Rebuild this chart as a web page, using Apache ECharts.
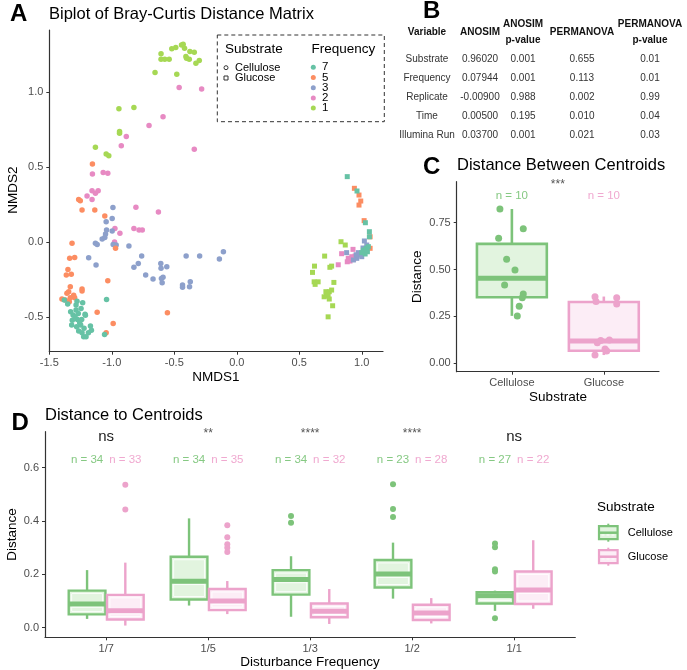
<!DOCTYPE html>
<html><head><meta charset="utf-8">
<script src="https://cdn.jsdelivr.net/npm/echarts@6/dist/echarts.min.js"></script>
<style>html,body{margin:0;padding:0;background:#fff}#c{width:687px;height:670px}</style>
</head><body><div id="c"></div>
<script>
// ---------------- Panel A data (NMDS1, NMDS2) ----------------
const celF1 = [[-0.606,1.258],[-0.606,1.222],[-0.576,1.222],[-0.541,1.222],[-0.520,1.291],[-0.488,1.300],[-0.442,1.316],[-0.429,1.322],[-0.418,1.295],[-0.407,1.240],[-0.402,1.229],[-0.380,1.222],[-0.375,1.273],[-0.340,1.269],[-0.327,1.195],[-0.300,1.213],[-0.654,1.133],[-0.480,1.122],[-0.943,0.890],[-0.823,0.899],[-0.938,0.738],[-0.938,0.727],[-1.131,0.633],[-1.045,0.589],[-1.024,0.577]];
const celF2 = [[-0.461,1.032],[-0.281,1.023],[-0.590,0.838],[-0.702,0.778],[-0.884,0.705],[-0.924,0.644],[-0.340,0.620],[-1.155,0.455],[-1.069,0.464],[-1.032,0.459],[-1.158,0.343],[-1.109,0.343],[-1.131,0.326],[-1.198,0.308],[-1.158,0.285],[-0.807,0.232],[-0.627,0.201],[-0.823,0.091],[-0.782,0.080],[-0.756,0.080],[-0.975,0.091],[-0.935,0.058],[-0.978,0.000]];
const celF3 = [[-0.991,0.230],[-0.997,0.158],[-1.045,0.136],[-1.042,0.080],[-1.050,0.054],[-0.997,0.074],[-1.077,0.020],[-1.056,0.031],[-1.131,-0.009],[-1.117,-0.016],[-0.989,-0.016],[-0.965,-0.020],[-0.863,-0.027],[-1.185,-0.105],[-1.126,-0.154],[-0.761,-0.094],[-0.788,-0.143],[-0.823,-0.169],[-0.729,-0.221],[-0.670,-0.247],[-0.608,-0.143],[-0.606,-0.176],[-0.560,-0.165],[-0.603,-0.243],[-0.590,-0.236],[-0.597,-0.272],[-0.434,-0.288],[-0.434,-0.303],[-0.372,-0.265],[-0.378,-0.299],[-0.405,-0.094],[-0.297,-0.094],[-0.139,-0.114],[-0.107,-0.065]];
const celF5 = [[-1.155,0.522],[-1.265,0.285],[-1.252,0.276],[-1.238,0.214],[-1.136,0.214],[-1.056,0.174],[-1.318,-0.009],[-1.337,-0.109],[-1.297,-0.103],[-1.351,-0.183],[-1.364,-0.221],[-1.324,-0.216],[-1.238,-0.314],[-1.238,-0.328],[-1.332,-0.299],[-1.345,-0.332],[-1.359,-0.343],[-1.399,-0.381],[-1.372,-0.388],[-1.305,-0.355],[-1.297,-0.372],[-1.340,-0.399],[-1.332,-0.372],[-1.032,-0.259],[-0.970,-0.042],[-1.117,-0.470],[-0.555,-0.473],[-0.989,-0.544],[-1.045,-0.606]];
const celF7 = [[-1.380,-0.388],[-1.353,-0.415],[-1.278,-0.395],[-1.233,-0.406],[-1.286,-0.421],[-1.329,-0.466],[-1.286,-0.455],[-1.246,-0.444],[-1.310,-0.488],[-1.268,-0.477],[-1.214,-0.482],[-1.316,-0.522],[-1.275,-0.517],[-1.241,-0.517],[-1.257,-0.540],[-1.321,-0.555],[-1.281,-0.566],[-1.249,-0.555],[-1.265,-0.595],[-1.222,-0.577],[-1.171,-0.562],[-1.163,-0.589],[-1.187,-0.606],[-1.238,-0.606],[-1.225,-0.633],[-1.206,-0.633],[-1.042,-0.384],[-1.058,-0.618],[-1.211,-0.489],[-1.294,-0.500]];
const gluF1 = [[0.834,0.002],[0.868,-0.020],[0.703,-0.094],[0.622,-0.161],[0.606,-0.203],[0.745,-0.169],[0.759,-0.161],[0.619,-0.266],[0.651,-0.266],[0.627,-0.283],[0.777,-0.270],[0.713,-0.332],[0.740,-0.332],[0.759,-0.321],[0.699,-0.366],[0.731,-0.361],[0.740,-0.381],[0.767,-0.426],[0.731,-0.500],[0.718,-0.343]];
const gluF2 = [[0.930,-0.049],[0.839,-0.078],[0.812,-0.152],[0.892,-0.109],[0.906,-0.127],[0.920,-0.098],[0.946,-0.094],[0.884,-0.132],[0.900,-0.118],[0.935,-0.115]];
const gluF3 = [[1.021,0.007],[1.040,-0.020],[0.879,-0.071],[0.981,-0.087],[0.960,-0.109],[0.933,-0.120],[1.000,-0.098],[0.973,-0.071],[0.955,-0.085],[1.010,-0.040]];
const gluF5 = [[0.941,0.359],[0.978,0.314],[0.992,0.274],[0.978,0.247],[1.019,0.143],[1.067,0.035],[1.067,-0.042]];
const gluF7 = [[0.884,0.437],[0.962,0.341],[1.029,0.129],[1.061,0.069],[1.061,0.035],[1.013,-0.054],[1.035,-0.042],[1.045,-0.065],[1.027,-0.080],[1.053,-0.031],[1.000,-0.071],[1.040,-0.055]];
const freqNames = ['7','5','3','2','1'];

// ---------------- Panel B table ----------------
const tblVars    = ['Substrate','Frequency','Replicate','Time','Illumina Run'];
const tblAnosim  = ['0.96020','0.07944','-0.00900','0.00500','0.03700'];
const tblAnosimP = ['0.001','0.001','0.988','0.195','0.001'];
const tblPerm    = ['0.655','0.113','0.002','0.010','0.021'];
const tblPermP   = ['0.01','0.01','0.99','0.04','0.03'];

// ---------------- Panel C data ----------------
const cCats = ['Cellulose','Glucose'];
const cBoxCel = [0.253,0.352,0.454,0.637,0.823];   // min,q1,median,q3,max
const cBoxGlu = [0.044,0.067,0.119,0.327,0.356];
const cCelJit = [-0.13,0.124,-0.144,-0.057,0.034,-0.079,0.124,0.113,0.080,0.059];
const cCelVal = [0.823,0.718,0.667,0.555,0.498,0.418,0.370,0.350,0.304,0.252];
const cGluJit = [-0.096,-0.085,0.14,0.14,-0.071,0.06,0.031,-0.096,0.013,-0.034];
const cGluVal = [0.355,0.329,0.350,0.316,0.110,0.124,0.066,0.044,0.076,0.121];
const cN = [10,10];
const cSig = '***';

// ---------------- Panel D data ----------------
const dCats = ['1/7','1/5','1/3','1/2','1/1'];
const dBoxCel = [[0.033,0.050,0.089,0.139,0.216],[0.083,0.106,0.174,0.266,0.410],[0.041,0.124,0.181,0.216,0.268],[0.109,0.151,0.201,0.254,0.319],[0.063,0.091,0.120,0.133,0.139]];
const dBoxGlu = [[0.008,0.031,0.064,0.123,0.244],[0.051,0.066,0.100,0.145,0.175],[0.014,0.039,0.062,0.091,0.145],[0.016,0.029,0.055,0.086,0.111],[0.071,0.089,0.141,0.211,0.328]];
const dOutCel = [[3,0.419],[3,0.394],[4,0.538],[4,0.445],[4,0.415],[5,0.316],[5,0.302],[5,0.219],[5,0.211],[5,0.035]];
const dOutGlu = [[1,0.536],[1,0.443],[2,0.384],[2,0.339],[2,0.313],[2,0.300],[2,0.284]];
const dNCel = [34,34,34,23,27];
const dNGlu = [33,35,32,28,22];
const dSig = ['ns','**','****','****','ns'];

// ---------------- styling ----------------
const FONT = 'Liberation Sans, Arial, Helvetica, sans-serif';
const set2 = {'7':'#66C2A5','5':'#FC8D62','3':'#8DA0CB','2':'#E78AC3','1':'#A6D854'};
const GREEN = '#7dc37a', GREEN_F = '#e2f4df', PINK = '#eca3cb', PINK_F = '#fcedf6';
const GREEN_T = '#86c983', PINK_T = '#f0a9d0';
const AX = '#333333', TICKC = '#4d4d4d';
const DODGE = 0.1875;

function vAxis(gridIndex, min, max, ticks, fmt, margin) {
  return {
    type:'value', gridIndex, min, max, scale:false,
    axisLine:{show:true, onZero:false, lineStyle:{color:AX, width:1.2}},
    axisTick:{show:true, length:3, lineStyle:{color:AX, width:1}, customValues:ticks},
    axisLabel:{show:true, customValues:ticks, formatter:fmt, color:TICKC, fontSize:11, fontFamily:FONT, margin:margin},
    splitLine:{show:false}
  };
}

function boxSeries(gridIdx, items, halfW, color, fill, lw, medW, inner) {
  return {
    type:'custom', xAxisIndex:gridIdx, yAxisIndex:gridIdx, clip:false,
    encode:{x:0, y:[1,2,3,4,5]},
    data: items,
    renderItem: function(params, api) {
      const x = api.value(0);
      const top = api.coord([x, api.value(5)]);
      const q3 = api.coord([x, api.value(4)]);
      const md = api.coord([x, api.value(3)]);
      const q1 = api.coord([x, api.value(2)]);
      const bt = api.coord([x, api.value(1)]);
      const hw = api.size([halfW, 0])[0];
      const cx = top[0];
      const ch = [
        {type:'line', shape:{x1:cx,y1:top[1],x2:cx,y2:q3[1]}, style:{stroke:color, lineWidth:lw}},
        {type:'line', shape:{x1:cx,y1:q1[1],x2:cx,y2:bt[1]}, style:{stroke:color, lineWidth:lw}},
        {type:'rect', shape:{x:cx-hw, y:q3[1], width:2*hw, height:q1[1]-q3[1]}, style:{fill:fill, stroke:color, lineWidth:lw}}
      ];
      if (inner) {
        const ins = lw*0.9+0.8;
        const h = q1[1]-q3[1]-2*ins;
        if (h > 1) ch.push({type:'rect', shape:{x:cx-hw+ins, y:q3[1]+ins, width:2*hw-2*ins, height:h}, style:{fill:'none', stroke:'rgba(255,255,255,0.85)', lineWidth:1}});
      }
      ch.push({type:'line', shape:{x1:cx-hw,y1:md[1],x2:cx+hw,y2:md[1]}, style:{stroke:color, lineWidth:medW}});
      if (inner) ch.push({type:'line', shape:{x1:cx-hw+lw+1,y1:md[1]+medW/2+0.8,x2:cx+hw-lw-1,y2:md[1]+medW/2+0.8}, style:{stroke:'rgba(255,255,255,0.85)', lineWidth:1}});
      return {type:'group', children:ch};
    }
  };
}

function textSeries(gridIdx, pts, texts, colors, fontSize) {
  return {
    type:'custom', xAxisIndex:gridIdx, yAxisIndex:gridIdx, clip:false,
    encode:{x:0, y:1}, data: pts,
    renderItem: function(params, api) {
      const p = api.coord([api.value(0), api.value(1)]);
      return {type:'text', x:p[0], y:p[1], style:{text:texts[params.dataIndex], fill:colors[params.dataIndex], fontSize:fontSize, fontFamily:FONT, align:'center', verticalAlign:'middle'}};
    }
  };
}

const series = [];
// Panel A: cellulose circles then glucose squares
const celSets = {'7':celF7,'5':celF5,'3':celF3,'2':celF2,'1':celF1};
const gluSets = {'7':gluF7,'5':gluF5,'3':gluF3,'2':gluF2,'1':gluF1};
['1','2','3','5','7'].forEach(f => {
  series.push({type:'scatter', xAxisIndex:0, yAxisIndex:0, data:celSets[f], symbol:'circle', symbolSize:5.5, itemStyle:{color:set2[f], opacity:1}, silent:true});
});
['1','2','3','5','7'].forEach(f => {
  series.push({type:'scatter', xAxisIndex:0, yAxisIndex:0, data:gluSets[f], symbol:'rect', symbolSize:5, itemStyle:{color:set2[f], opacity:1}, silent:true});
});

// Panel C
series.push(boxSeries(1, [[1].concat(cBoxCel)], 0.38, GREEN, GREEN_F, 2.6, 5, false));
series.push(boxSeries(1, [[2].concat(cBoxGlu)], 0.38, PINK, PINK_F, 2.6, 5, false));
series.push({type:'scatter', xAxisIndex:1, yAxisIndex:1, symbolSize:7, itemStyle:{color:GREEN, opacity:1},
  data: cCelVal.map((v,i)=>[1+cCelJit[i], v]), silent:true});
series.push({type:'scatter', xAxisIndex:1, yAxisIndex:1, symbolSize:7, itemStyle:{color:PINK, opacity:1},
  data: cGluVal.map((v,i)=>[2+cGluJit[i], v]), silent:true});
series.push(textSeries(1, [[1,0.892],[2,0.892]], cN.map(n=>'n = '+n), [GREEN_T, PINK_T], 11.5));
series.push(textSeries(1, [[1.5,0.955]], [cSig], ['#555'], 12));

// Panel D
series.push(boxSeries(2, dBoxCel.map((b,i)=>[i+1-DODGE].concat(b)), 0.18, GREEN, GREEN_F, 2.4, 5, true));
series.push(boxSeries(2, dBoxGlu.map((b,i)=>[i+1+DODGE].concat(b)), 0.18, PINK, PINK_F, 2.4, 5, true));
series.push({type:'scatter', xAxisIndex:2, yAxisIndex:2, symbolSize:6, itemStyle:{color:GREEN, opacity:1},
  data: dOutCel.map(o=>[o[0]-DODGE, o[1]]), silent:true});
series.push({type:'scatter', xAxisIndex:2, yAxisIndex:2, symbolSize:6, itemStyle:{color:PINK, opacity:1},
  data: dOutGlu.map(o=>[o[0]+DODGE, o[1]]), silent:true});
const nPts = [], nTxt = [], nCol = [];
dCats.forEach((c,i)=>{
  nPts.push([i+1-DODGE, 0.629]); nTxt.push('n = '+dNCel[i]); nCol.push(GREEN_T);
  nPts.push([i+1+DODGE, 0.629]); nTxt.push('n = '+dNGlu[i]); nCol.push(PINK_T);
});
series.push(textSeries(2, nPts, nTxt, nCol, 11.5));
const nsIdx = [], starIdx = [];
dSig.forEach((s,i)=>{ if (s === 'ns') nsIdx.push(i); else starIdx.push(i); });
series.push(textSeries(2, nsIdx.map(i=>[i+1, 0.716]), nsIdx.map(i=>dSig[i]), nsIdx.map(()=> '#222'), 15));
series.push(textSeries(2, starIdx.map(i=>[i+1, 0.728]), starIdx.map(i=>dSig[i]), starIdx.map(()=> '#555'), 12));

// ---------------- graphics (titles, legends, table) ----------------
function txt(x, y, text, size, opts) {
  opts = opts || {};
  const el = {type:'text', x:x, y:y, silent:true, z:10,
    style:{text:text, fontSize:size, fontFamily:FONT, fill:opts.fill||'#000', fontWeight:opts.bold?'bold':'normal', align:opts.align||'left', verticalAlign:'middle'}};
  if (opts.rot) el.rotation = opts.rot;
  return el;
}
const g = [];
// Panel A legend box (drawn first, under its texts)
g.push({type:'rect', silent:true, z:5, shape:{x:217.3, y:35, width:167, height:86.7}, style:{fill:'#fff', stroke:'#333', lineWidth:1, lineDash:[4,3]}});
// Letters and titles
g.push(txt(10, 14, 'A', 24, {bold:true}));
g.push(txt(423, 11, 'B', 24, {bold:true}));
g.push(txt(423, 167.5, 'C', 24, {bold:true}));
g.push(txt(11.5, 423, 'D', 24, {bold:true}));
g.push(txt(49, 14, 'Biplot of Bray-Curtis Distance Matrix', 16.5));
g.push(txt(457, 165, 'Distance Between Centroids', 16.5));
g.push(txt(45, 415.7, 'Distance to Centroids', 16.5));
// Axis titles
g.push(txt(216, 377.5, 'NMDS1', 13.5, {align:'center'}));
g.push(txt(13, 190, 'NMDS2', 13.5, {align:'center', rot:Math.PI/2}));
g.push(txt(558, 397.5, 'Substrate', 13.5, {align:'center'}));
g.push(txt(417, 276.7, 'Distance', 13.5, {align:'center', rot:Math.PI/2}));
g.push(txt(310, 662.5, 'Disturbance Frequency', 13.5, {align:'center'}));
g.push(txt(12.5, 534.5, 'Distance', 13.5, {align:'center', rot:Math.PI/2}));
// Panel A legend content
g.push(txt(225, 49, 'Substrate', 13.5));
g.push(txt(311.5, 49, 'Frequency', 13.5));
g.push({type:'circle', silent:true, z:10, shape:{cx:226, cy:67.7, r:2}, style:{fill:'none', stroke:'#333', lineWidth:1}});
g.push({type:'rect', silent:true, z:10, shape:{x:224, y:76, width:4, height:4}, style:{fill:'none', stroke:'#333', lineWidth:1}});
g.push(txt(235, 67.7, 'Cellulose', 11));
g.push(txt(235, 78, 'Glucose', 11));
freqNames.forEach((f,i)=>{
  const y = 67.3 + i*10.2;
  g.push({type:'circle', silent:true, z:10, shape:{cx:313.3, cy:y, r:2.5}, style:{fill:set2[f]}});
  g.push(txt(322, y, f, 11.5));
});
// Panel B table
const colX = [427, 480, 523, 582, 650];
g.push(txt(colX[0], 32.3, 'Variable', 10, {bold:true, align:'center', fill:'#111'}));
g.push(txt(colX[1], 32.3, 'ANOSIM', 10, {bold:true, align:'center', fill:'#111'}));
g.push(txt(colX[2], 24.3, 'ANOSIM', 10, {bold:true, align:'center', fill:'#111'}));
g.push(txt(colX[2], 40.3, 'p-value', 10, {bold:true, align:'center', fill:'#111'}));
g.push(txt(colX[3], 32.7, 'PERMANOVA', 10, {bold:true, align:'center', fill:'#111'}));
g.push(txt(colX[4], 24.3, 'PERMANOVA', 10, {bold:true, align:'center', fill:'#111'}));
g.push(txt(colX[4], 40.7, 'p-value', 10, {bold:true, align:'center', fill:'#111'}));
const rowY = [59, 78.3, 97, 116, 135];
tblVars.forEach((v,i)=>{
  const cols = [v, tblAnosim[i], tblAnosimP[i], tblPerm[i], tblPermP[i]];
  cols.forEach((c,j)=> g.push(txt(colX[j], rowY[i], c, 10, {align:'center', fill:'#333'})));
});
// Panel D legend
g.push(txt(597, 507.5, 'Substrate', 13.5));
[[GREEN, GREEN_F, 532.7, 'Cellulose'],[PINK, PINK_F, 556.7, 'Glucose']].forEach(k=>{
  const [c, f, y, label] = k;
  g.push({type:'line', silent:true, z:10, shape:{x1:608.3, y1:y-9, x2:608.3, y2:y+9}, style:{stroke:c, lineWidth:2}});
  g.push({type:'rect', silent:true, z:10, shape:{x:599, y:y-6.5, width:18.6, height:13}, style:{fill:f, stroke:c, lineWidth:2.2}});
  g.push({type:'line', silent:true, z:10, shape:{x1:599, y1:y, x2:617.6, y2:y}, style:{stroke:c, lineWidth:2.5}});
  g.push({type:'line', silent:true, z:10, shape:{x1:601.5, y1:y+2.3, x2:615, y2:y+2.3}, style:{stroke:'rgba(255,255,255,0.85)', lineWidth:1, lineDash:[3,2]}});
  g.push(txt(627.7, y, label, 11));
});

const option = {
  animation:false,
  backgroundColor:'#fff',
  grid:[
    {left:49.3, top:30, width:333.7, height:321.7},
    {left:456.7, top:181.7, width:202.3, height:190},
    {left:45, top:431.7, width:530.3, height:205.6}
  ],
  xAxis:[
    vAxis(0, -1.5, 1.17, [-1.5,-1.0,-0.5,0,0.5,1.0], v=>v.toFixed(1), 6),
    vAxis(1, 0.4, 2.6, [1,2], v=>cCats[Math.round(v)-1], 6),
    vAxis(2, 0.4, 5.6, [1,2,3,4,5], v=>dCats[Math.round(v)-1], 6)
  ],
  yAxis:[
    vAxis(0, -0.733, 1.417, [-0.5,0,0.5,1.0], v=>v.toFixed(1), 6),
    vAxis(1, -0.0448, 0.9685, [0,0.25,0.5,0.75], v=>v.toFixed(2), 6),
    vAxis(2, -0.036, 0.735, [0,0.2,0.4,0.6], v=>v.toFixed(1), 6)
  ],
  series: series,
  graphic: g
};
const chart = echarts.init(document.getElementById('c'), null, {renderer:'canvas'});
chart.setOption(option);
</script></body></html>
